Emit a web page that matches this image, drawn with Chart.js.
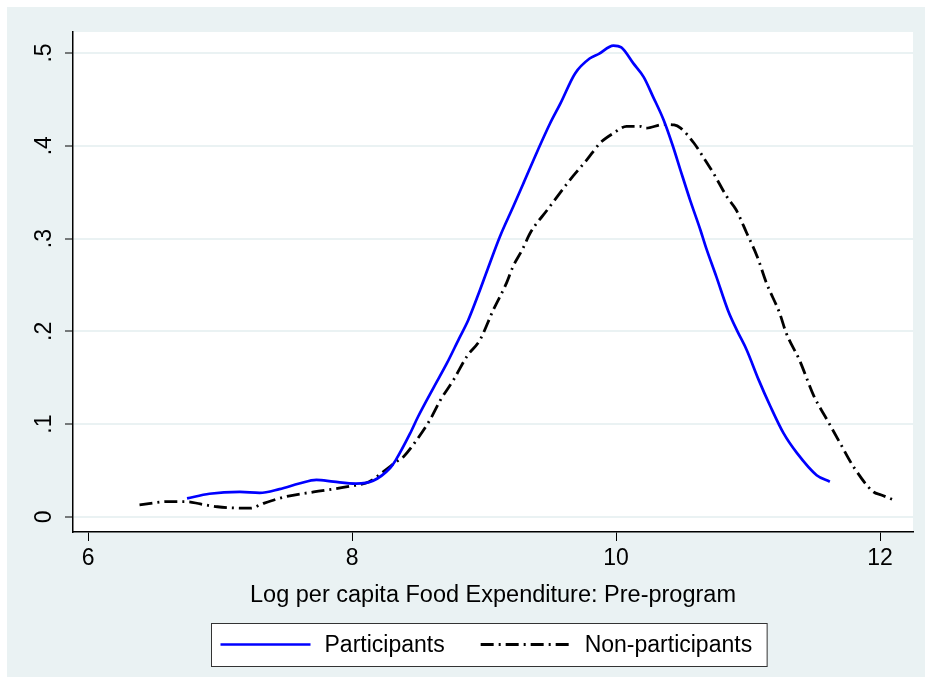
<!DOCTYPE html>
<html>
<head>
<meta charset="utf-8">
<script src="https://cdn.jsdelivr.net/npm/chart.js@4"></script>
<style>
  html, body { margin: 0; padding: 0; background: #fff; }
</style>
</head>
<body>
<canvas id="densityChart" width="925" height="677"></canvas>
<script>
// Kernel density of log per capita food expenditure (pre-program)
const partX = [6.75, 6.92, 7.15, 7.30, 7.45, 7.60, 7.73, 7.86, 8.03, 8.16, 8.29, 8.33, 8.44, 8.50, 8.62, 8.72, 8.81, 8.88, 8.96, 9.03,
  9.12, 9.22, 9.30, 9.41, 9.50, 9.58, 9.69, 9.80, 9.87, 9.98, 10.04, 10.13, 10.21, 10.28, 10.36, 10.43, 10.49, 10.56, 10.64, 10.68,
  10.76, 10.85, 10.92, 10.99, 11.08, 11.17, 11.27, 11.37, 11.52, 11.62];
const partY = [0.020, 0.025, 0.027, 0.026, 0.030, 0.036, 0.040, 0.038, 0.036, 0.039, 0.053, 0.061, 0.090, 0.108, 0.140, 0.166, 0.192, 0.212, 0.241, 0.268,
  0.302, 0.334, 0.360, 0.396, 0.424, 0.446, 0.478, 0.494, 0.499, 0.508, 0.506, 0.489, 0.474, 0.453, 0.428, 0.400, 0.373, 0.342, 0.309, 0.291,
  0.259, 0.222, 0.200, 0.180, 0.148, 0.119, 0.090, 0.069, 0.045, 0.038];

const nonPartX = [6.39, 6.60, 6.75, 6.85, 6.98, 7.23, 7.33, 7.50, 7.71, 7.98, 8.13, 8.24, 8.35, 8.39, 8.50, 8.59, 8.67, 8.77, 8.87, 8.97,
  9.07, 9.17, 9.22, 9.29, 9.35, 9.48, 9.65, 9.78, 9.88, 9.98, 10.08, 10.18, 10.23, 10.36, 10.44, 10.49, 10.59, 10.66, 10.74, 10.84,
  10.91, 10.99, 11.07, 11.14, 11.24, 11.29, 11.39, 11.50, 11.60, 11.70, 11.80, 11.95, 12.01, 12.11];
const nonPartY = [0.013, 0.0165, 0.0165, 0.014, 0.011, 0.0095, 0.0147, 0.022, 0.027, 0.033, 0.038, 0.049, 0.061, 0.065, 0.085, 0.1045, 0.126, 0.148, 0.173, 0.191,
  0.223, 0.252, 0.270, 0.288, 0.306, 0.331, 0.363, 0.385, 0.403, 0.4135, 0.421, 0.421, 0.419, 0.423, 0.4225, 0.419, 0.403, 0.388, 0.370, 0.345,
  0.331, 0.306, 0.2805, 0.252, 0.2195, 0.198, 0.169, 0.130, 0.1045, 0.079, 0.054, 0.027, 0.0237, 0.018];

const xTicks = [6, 8, 10, 12];
const yTicks = [0, 0.1, 0.2, 0.3, 0.4, 0.5];
const seriesLabels = ['Participants', 'Non-participants'];
const xTitle = 'Log per capita Food Expenditure: Pre-program';

const BG = '#EAF2F3';
const FONT = '"Liberation Sans", Arial, sans-serif';

const toPoints = (xs, ys) => xs.map((x, i) => ({ x: x, y: ys[i] }));

// background: light outer region, white plot region
const backgroundPlugin = {
  id: 'stataBackground',
  beforeDraw(chart) {
    const ctx = chart.ctx;
    const a = chart.chartArea;
    ctx.save();
    ctx.fillStyle = '#fff';
    ctx.fillRect(0, 0, chart.width, chart.height);
    ctx.fillStyle = BG;
    ctx.fillRect(7, 7, chart.width - 7, chart.height - 7);
    ctx.fillStyle = '#fff';
    ctx.fillRect(a.left, a.top, a.right - a.left, a.bottom - a.top);
    ctx.restore();
  }
};

// boxed legend under the axis title
const boxLegendPlugin = {
  id: 'boxLegend',
  afterDraw(chart) {
    const ctx = chart.ctx;
    const a = chart.chartArea;
    ctx.save();
    ctx.font = '23px ' + FONT;
    const keyW = 90, keyGap = 14, itemGap = 36, padL = 9, padR = 15;
    const widths = chart.data.datasets.map(d => ctx.measureText(d.label).width);
    let boxW = padL + padR;
    widths.forEach((w, i) => { boxW += keyW + keyGap + w + (i > 0 ? itemGap : 0); });
    const boxTop = 623, boxH = 43;
    const boxLeft = Math.round((a.left + a.right) / 2 - 4 - boxW / 2) + 0.5;
    ctx.fillStyle = '#fff';
    ctx.fillRect(boxLeft, boxTop + 0.5, boxW, boxH);
    ctx.strokeStyle = '#333';
    ctx.lineWidth = 1;
    ctx.strokeRect(boxLeft, boxTop + 0.5, boxW, boxH);
    const midY = boxTop + boxH / 2;
    let x = boxLeft + padL;
    chart.data.datasets.forEach((d, i) => {
      if (i > 0) x += itemGap;
      ctx.beginPath();
      ctx.setLineDash(d.borderDash || []);
      ctx.lineDashOffset = 0;
      ctx.strokeStyle = d.borderColor;
      ctx.lineWidth = d.borderWidth;
      ctx.moveTo(x, midY);
      ctx.lineTo(x + keyW, midY);
      ctx.stroke();
      ctx.setLineDash([]);
      x += keyW + keyGap;
      ctx.fillStyle = '#000';
      ctx.textBaseline = 'middle';
      ctx.textAlign = 'left';
      ctx.fillText(d.label, x, midY + 1);
      x += widths[i];
    });
    ctx.restore();
  }
};

const densityChart = new Chart(document.getElementById('densityChart').getContext('2d'), {
  type: 'scatter',
  data: {
    datasets: [{
      label: seriesLabels[0],
      data: toPoints(partX, partY),
      showLine: true,
      borderColor: '#0000FF',
      borderWidth: 2.7,
      pointRadius: 0,
      cubicInterpolationMode: 'monotone'
    }, {
      label: seriesLabels[1],
      data: toPoints(nonPartX, nonPartY),
      showLine: true,
      borderColor: '#000000',
      borderWidth: 2.8,
      borderDash: [13, 5, 2, 5],
      borderCapStyle: 'butt',
      pointRadius: 0,
      cubicInterpolationMode: 'monotone'
    }]
  },
  options: {
    responsive: false,
    devicePixelRatio: 1,
    animation: false,
    layout: { padding: { left: 0, top: 32, right: 12, bottom: 67 } },
    plugins: {
      legend: { display: false },
      tooltip: { enabled: false }
    },
    scales: {
      x: {
        type: 'linear',
        min: 5.886,
        max: 12.25,
        afterBuildTicks: scale => { scale.ticks = xTicks.map(v => ({ value: v })); },
        afterFit: scale => { scale.height = 78; },
        ticks: {
          color: '#000',
          font: { family: FONT, size: 23 },
          padding: 4,
          maxRotation: 0,
          callback: v => String(v)
        },
        grid: {
          display: true,
          drawOnChartArea: false,
          drawTicks: true,
          tickLength: 9,
          tickColor: '#000',
          tickWidth: 1
        },
        border: { display: true, color: '#000', width: 1.5 },
        title: {
          display: true,
          text: xTitle,
          color: '#000',
          font: { family: FONT, size: 23.5 },
          padding: { top: 0, bottom: 0 }
        }
      },
      y: {
        type: 'linear',
        min: -0.0162,
        max: 0.5226,
        afterBuildTicks: scale => { scale.ticks = yTicks.map(v => ({ value: v })); },
        afterFit: scale => { scale.width = 73; },
        ticks: {
          color: '#000',
          font: { family: FONT, size: 23 },
          padding: 11,
          minRotation: 90,
          maxRotation: 90,
          crossAlign: 'center',
          callback: v => (v === 0 ? '0' : String(Math.round(v * 10) / 10).replace(/^0\./, '.'))
        },
        grid: {
          color: BG,
          lineWidth: 2,
          drawTicks: true,
          tickLength: 8,
          tickColor: '#000',
          tickWidth: 1
        },
        border: { display: true, color: '#000', width: 1.5 }
      }
    }
  },
  plugins: [backgroundPlugin, boxLegendPlugin]
});
</script>
</body>
</html>
